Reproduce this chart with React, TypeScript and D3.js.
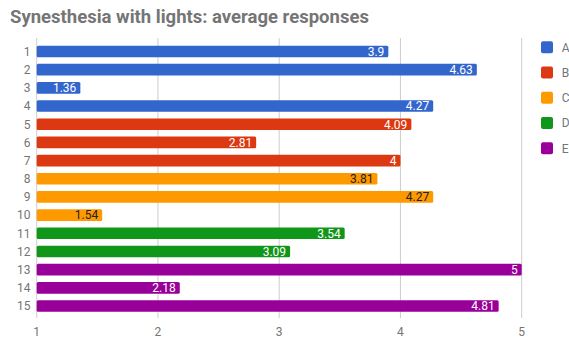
import React from "react";
import * as d3 from "d3";

const categories = ["1", "2", "3", "4", "5", "6", "7", "8", "9", "10", "11", "12", "13", "14", "15"];
const values = [3.9, 4.63, 1.36, 4.27, 4.09, 2.81, 4, 3.81, 4.27, 1.54, 3.54, 3.09, 5, 2.18, 4.81];
const seriesOf = ["A", "A", "A", "A", "B", "B", "B", "C", "C", "C", "D", "D", "E", "E", "E"];
const seriesNames = ["A", "B", "C", "D", "E"];
const seriesColors = ["#3366cc", "#dc3912", "#ff9900", "#109618", "#990099"];
const xTicks = [1, 2, 3, 4, 5];

const W = 569;
const H = 341;
const FONT = "Roboto, 'Noto Sans', Arial, sans-serif";

export default function App() {
  const x = d3.scaleLinear().domain([1, 5]).range([36.7, 521.7]);
  const y = d3.scaleBand<string>().domain(categories).range([42.4, 315.1]).paddingInner(0.36).paddingOuter(0.18);
  const color = d3.scaleOrdinal<string, string>().domain(seriesNames).range(seriesColors);

  return (
    <svg width={W} height={H} style={{ position: "absolute", left: 0, top: 0, background: "#fff" }} fontFamily={FONT}>
      <text x={10} y={22.5} fontSize={18.5} fontWeight="bold" fill="#757575">
        Synesthesia with lights: average responses
      </text>
      {xTicks.map((t) => (
        <g key={t}>
          <line x1={x(t)} x2={x(t)} y1={38} y2={318} stroke="#cccccc" strokeWidth={1} />
          <text x={x(t)} y={336} fontSize={12} fill="#757575" textAnchor="middle">
            {t}
          </text>
        </g>
      ))}
      {categories.map((c, i) => {
        const by = y(c)!;
        const bh = y.bandwidth();
        const fill = color(seriesOf[i]);
        const x0 = x(1);
        const x1 = x(values[i]);
        const dark = seriesOf[i] === "C";
        return (
          <g key={c}>
            <text x={30.5} y={by + bh / 2 + 4.3} fontSize={12} fill="#757575" textAnchor="end">
              {c}
            </text>
            <rect x={x0} y={by} width={x1 - x0} height={bh} fill={fill} rx={1.5} />
            <text
              x={x1 - 4}
              y={by + bh / 2 + 4.3}
              fontSize={12}
              fill={dark ? "#222222" : "#ffffff"}
              textAnchor="end"
            >
              {d3.format("")(values[i])}
            </text>
          </g>
        );
      })}
      {seriesNames.map((s, i) => {
        const cy = 47.2 + i * 25.25;
        return (
          <g key={s}>
            <rect x={541} y={cy - 6} width={12} height={12} rx={2} fill={color(s)} />
            <text x={561.7} y={cy + 4.3} fontSize={12} fill="#757575">
              {s}
            </text>
          </g>
        );
      })}
    </svg>
  );
}
